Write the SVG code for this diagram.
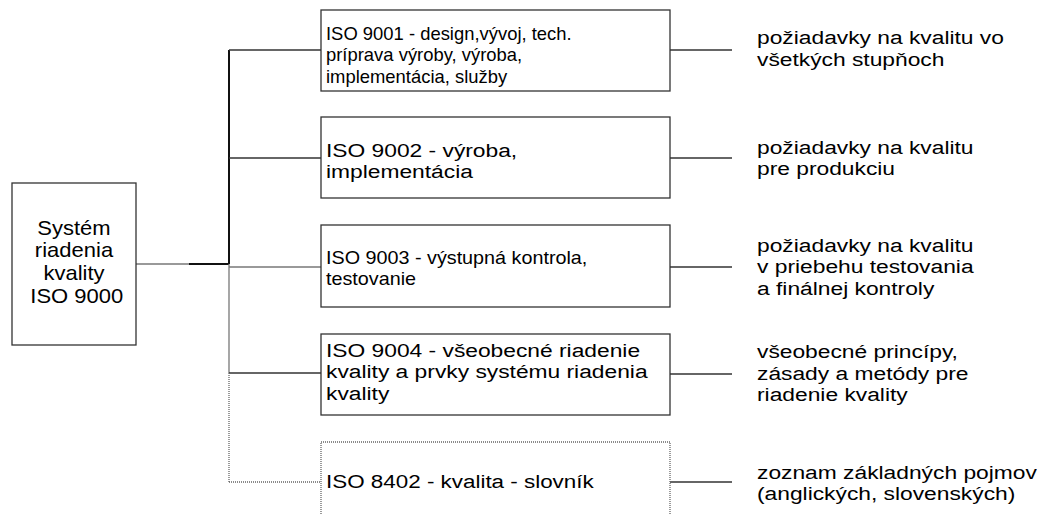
<svg xmlns="http://www.w3.org/2000/svg" width="1037" height="515" viewBox="0 0 1037 515">
<style>
text{font-family:"Liberation Sans",Arial,sans-serif;fill:#000;font-size:19px}
.l{font-size:20px;text-anchor:middle}
.box{fill:#fff;stroke:#333;stroke-width:1.3}
.dot{fill:#fff;stroke:#666;stroke-width:1.3;stroke-dasharray:1 1}
.ln{stroke:#333;stroke-width:1.3;fill:none}
.k{stroke:#111;stroke-width:2;fill:none}
.g{stroke:#777;stroke-width:1.3;fill:none}
.dl{stroke:#666;stroke-width:1.3;fill:none;stroke-dasharray:1 1}
</style>
<rect width="1037" height="515" fill="#fff"/>
<g id="connectors">
<line class="g" x1="136" y1="264" x2="189" y2="264"/>
<line class="k" x1="189" y1="264" x2="229" y2="264"/>
<line class="k" x1="229" y1="50" x2="229" y2="264"/>
<line class="ln" x1="229" y1="50" x2="321" y2="50"/>
<line class="ln" x1="229" y1="158" x2="321" y2="158"/>
<line class="g" x1="229" y1="264" x2="229" y2="373"/>
<line class="g" x1="229" y1="267" x2="321" y2="267"/>
<line class="ln" x1="229" y1="373" x2="321" y2="373"/>
<line class="dl" x1="229" y1="373" x2="229" y2="482"/>
<line class="dl" x1="229" y1="482" x2="321" y2="482"/>
<line class="ln" x1="670" y1="50" x2="732" y2="50"/>
<line class="ln" x1="670" y1="158" x2="732" y2="158"/>
<line class="ln" x1="670" y1="267" x2="732" y2="267"/>
<line class="ln" x1="670" y1="374" x2="732" y2="374"/>
<line class="ln" x1="670" y1="482" x2="732" y2="482"/>
</g>
<g id="root">
<rect class="box" x="12" y="183" width="124" height="162"/>
<g transform="matrix(1.1 0 0 1 74 0)">
<text class="l" x="0" y="235">Systém</text>
<text class="l" x="0" y="257.5">riadenia</text>
<text class="l" x="0" y="280">kvality</text>
<text class="l" x="2.5" y="303">ISO 9000</text>
</g>
</g>
<g id="iso9001">
<rect class="box" x="321" y="10" width="349" height="81"/>
<g transform="matrix(0.97 0 0 1 326 0)">
<text x="0" y="40">ISO 9001 - design,vývoj, tech.</text>
<text x="0" y="61.5">príprava výroby, výroba,</text>
<text x="0" y="83">implementácia, služby</text>
</g>
</g>
<g id="iso9002">
<rect class="box" x="321" y="117" width="349" height="81"/>
<g transform="matrix(1.2 0 0 1 326 0)">
<text x="0" y="157">ISO 9002 - výroba,</text>
<text x="0" y="178.5">implementácia</text>
</g>
</g>
<g id="iso9003">
<rect class="box" x="321" y="225" width="349" height="82"/>
<g transform="matrix(1.04 0 0 1 326 0)">
<text x="0" y="264">ISO 9003 - výstupná kontrola,</text>
<text x="0" y="285.5">testovanie</text>
</g>
</g>
<g id="iso9004">
<rect class="box" x="321" y="334" width="349" height="81"/>
<g transform="matrix(1.2 0 0 1 326 0)">
<text x="0" y="357">ISO 9004 - všeobecné riadenie</text>
<text x="0" y="378.5">kvality a prvky systému riadenia</text>
<text x="0" y="400">kvality</text>
</g>
</g>
<g id="iso8402">
<rect class="dot" x="321" y="442" width="349" height="90"/>
<g transform="matrix(1.18 0 0 1 326 0)">
<text x="0" y="488">ISO 8402 - kvalita - slovník</text>
</g>
</g>
<g id="desc1" transform="matrix(1.2 0 0 1 757 0)">
<text x="0" y="44.5">požiadavky na kvalitu vo</text>
<text x="0" y="66">všetkých stupňoch</text>
</g>
<g id="desc2" transform="matrix(1.2 0 0 1 757 0)">
<text x="0" y="154">požiadavky na kvalitu</text>
<text x="0" y="175.5">pre produkciu</text>
</g>
<g id="desc3" transform="matrix(1.2 0 0 1 757 0)">
<text x="0" y="252">požiadavky na kvalitu</text>
<text x="0" y="273.5">v priebehu testovania</text>
<text x="0" y="295">a finálnej kontroly</text>
</g>
<g id="desc4" transform="matrix(1.2 0 0 1 757 0)">
<text x="0" y="358.5">všeobecné princípy,</text>
<text x="0" y="380">zásady a metódy pre</text>
<text x="0" y="401.5">riadenie kvality</text>
</g>
<g id="desc5" transform="matrix(1.2 0 0 1 757 0)">
<text x="0" y="479">zoznam základných pojmov</text>
<text x="0" y="500.5">(anglických, slovenských)</text>
</g>
</svg>
